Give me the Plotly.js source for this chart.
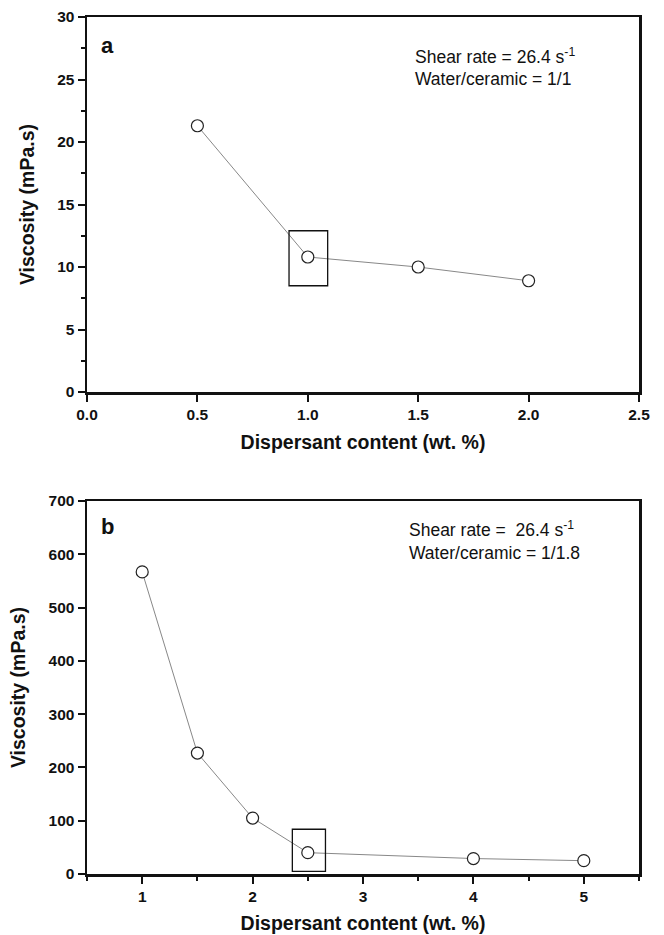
<!DOCTYPE html>
<html>
<head>
<meta charset="utf-8">
<script src="https://cdn.plot.ly/plotly-3.0.1.min.js"></script>
<style>html,body{margin:0;padding:0;background:#fff;}#chart{width:664px;height:935px;}</style>
</head>
<body>
<div id="chart"></div>
<script>
// Panel a data
const dispersantA = [0.5, 1.0, 1.5, 2.0];
const viscosityA = [21.3, 10.8, 10.0, 8.9];
// Panel b data
const dispersantB = [1, 1.5, 2, 2.5, 4, 5];
const viscosityB = [567, 227, 105, 40, 29, 25];
// Highlight boxes (data units)
const boxAx = [0.915, 1.09];
const boxAy = [8.5, 12.9];
const boxBx = [2.36, 2.66];
const boxBy = [5, 84];
// Tick labels
const xTicksA = [0, 0.5, 1.0, 1.5, 2.0, 2.5];
const xTickTextA = ['0.0', '0.5', '1.0', '1.5', '2.0', '2.5'];
const yTicksA = [0, 5, 10, 15, 20, 25, 30];
const xTicksB = [1, 2, 3, 4, 5];
const yTicksB = [0, 100, 200, 300, 400, 500, 600, 700];

const FONT = 'Liberation Sans, Arial, sans-serif';
const tickFont = {family: FONT, size: 15.5, color: '#111', weight: 'bold'};
const titleFont = {family: FONT, size: 19.5, color: '#111', weight: 'bold'};
const noteFont = {family: FONT, size: 17.5, color: '#111'};
const panelFont = {family: FONT, size: 22, color: '#111', weight: 'bold'};

const markerStyle = {symbol: 'circle', size: 12, color: '#fff', line: {color: '#222', width: 1.2}};
const lineStyle = {color: '#888', width: 1};

const traces = [
  {x: dispersantA, y: viscosityA, xaxis: 'x', yaxis: 'y', mode: 'lines+markers', marker: markerStyle, line: lineStyle, showlegend: false, hoverinfo: 'skip'},
  {x: dispersantB, y: viscosityB, xaxis: 'x2', yaxis: 'y2', mode: 'lines+markers', marker: markerStyle, line: lineStyle, showlegend: false, hoverinfo: 'skip'}
];

const axisCommon = {
  showline: true, mirror: true, linecolor: '#111', linewidth: 2.5,
  ticks: 'outside', ticklen: 7, tickwidth: 2, tickcolor: '#111',
  showgrid: false, zeroline: false, tickfont: tickFont, automargin: false
};
const minorCommon = {ticks: 'outside', ticklen: 4, tickwidth: 2, tickcolor: '#111', showgrid: false};

const layout = {
  width: 664, height: 935,
  margin: {l: 87, r: 25, t: 17, b: 61},
  paper_bgcolor: '#fff', plot_bgcolor: '#fff',
  xaxis: Object.assign({}, axisCommon, {
    domain: [0, 1], anchor: 'y', range: [0, 2.5],
    tickvals: xTicksA, ticktext: xTickTextA,
    title: {text: 'Dispersant content (wt. %)', font: titleFont, standoff: 13}
  }),
  yaxis: Object.assign({}, axisCommon, {
    domain: [0.5624, 1], anchor: 'x', range: [0, 30],
    tickvals: yTicksA,
    minor: Object.assign({dtick: 2.5}, minorCommon),
    title: {text: 'Viscosity (mPa.s)', font: titleFont, standoff: 18}
  }),
  xaxis2: Object.assign({}, axisCommon, {
    domain: [0, 1], anchor: 'y2', range: [0.5, 5.5],
    tickvals: xTicksB,
    minor: Object.assign({dtick: 0.5}, minorCommon),
    title: {text: 'Dispersant content (wt. %)', font: titleFont, standoff: 13}
  }),
  yaxis2: Object.assign({}, axisCommon, {
    domain: [0, 0.4352], anchor: 'x2', range: [0, 700],
    tickvals: yTicksB,
    title: {text: 'Viscosity (mPa.s)', font: titleFont, standoff: 18}
  }),
  shapes: [
    {type: 'rect', xref: 'x', yref: 'y', x0: boxAx[0], x1: boxAx[1], y0: boxAy[0], y1: boxAy[1], line: {color: '#111', width: 1.3}},
    {type: 'rect', xref: 'x2', yref: 'y2', x0: boxBx[0], x1: boxBx[1], y0: boxBy[0], y1: boxBy[1], line: {color: '#111', width: 1.3}}
  ],
  annotations: [
    {xref: 'x domain', yref: 'y domain', x: 0.022, y: 0.925, xanchor: 'left', yanchor: 'middle', showarrow: false, text: 'a', font: panelFont},
    {xref: 'x domain', yref: 'y domain', x: 0.59, y: 0.897, xanchor: 'left', yanchor: 'middle', showarrow: false, text: 'Shear rate = 26.4 s<sup>-1</sup>', font: noteFont},
    {xref: 'x domain', yref: 'y domain', x: 0.59, y: 0.834, xanchor: 'left', yanchor: 'middle', showarrow: false, text: 'Water/ceramic = 1/1', font: noteFont},
    {xref: 'x2 domain', yref: 'y2 domain', x: 0.022, y: 0.933, xanchor: 'left', yanchor: 'middle', showarrow: false, text: 'b', font: panelFont},
    {xref: 'x2 domain', yref: 'y2 domain', x: 0.579, y: 0.925, xanchor: 'left', yanchor: 'middle', showarrow: false, text: 'Shear rate =  26.4 s<sup>-1</sup>', font: noteFont},
    {xref: 'x2 domain', yref: 'y2 domain', x: 0.579, y: 0.862, xanchor: 'left', yanchor: 'middle', showarrow: false, text: 'Water/ceramic = 1/1.8', font: noteFont}
  ]
};

Plotly.newPlot('chart', traces, layout, {staticPlot: true, displayModeBar: false});
</script>
</body>
</html>
